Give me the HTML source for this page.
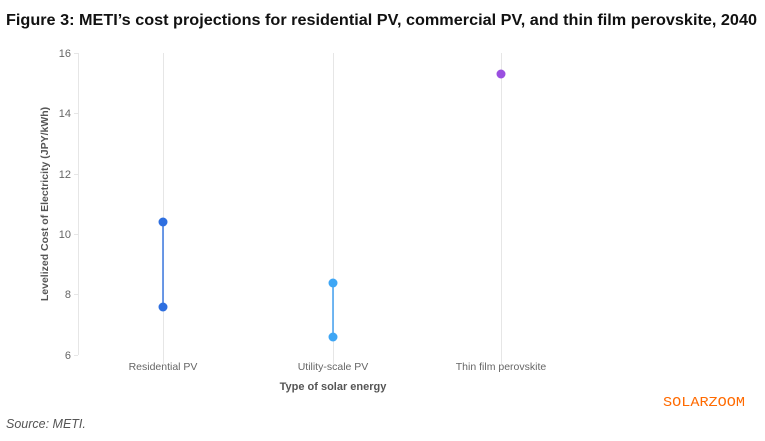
<!DOCTYPE html>
<html><head><meta charset="utf-8"><style>
body{margin:0;background:#fff;width:765px;height:436px;overflow:hidden;font-family:"Liberation Sans",sans-serif}
</style></head><body>
<svg width="765" height="436" xmlns="http://www.w3.org/2000/svg" font-family="Liberation Sans, sans-serif">
<text x="6" y="25" font-size="16" font-weight="bold" fill="#111" textLength="751" lengthAdjust="spacingAndGlyphs">Figure 3: METI’s cost projections for residential PV, commercial PV, and thin film perovskite, 2040</text>
<g stroke="#e6e6e6" stroke-width="1">
<line x1="78.5" y1="53" x2="78.5" y2="355"/>
<line x1="163.5" y1="53" x2="163.5" y2="364"/>
<line x1="333.5" y1="53" x2="333.5" y2="364"/>
<line x1="501.5" y1="53" x2="501.5" y2="364"/>
<line x1="74" y1="53.5" x2="78" y2="53.5"/><line x1="74" y1="113.5" x2="78" y2="113.5"/>
<line x1="74" y1="174.5" x2="78" y2="174.5"/><line x1="74" y1="234.5" x2="78" y2="234.5"/>
<line x1="74" y1="294.5" x2="78" y2="294.5"/><line x1="74" y1="355.5" x2="78" y2="355.5"/>
</g>
<g font-size="11" fill="#666" text-anchor="end">
<text x="71" y="57">16</text><text x="71" y="117">14</text><text x="71" y="178">12</text>
<text x="71" y="238">10</text><text x="71" y="298">8</text><text x="71" y="359">6</text>
</g>
<text transform="translate(48,204) rotate(-90)" font-size="10.5" font-weight="bold" fill="#555" text-anchor="middle">Levelized Cost of Electricity (JPY/kWh)</text>
<g font-size="10.5" fill="#666" text-anchor="middle">
<text x="163" y="370">Residential PV</text><text x="333" y="370">Utility-scale PV</text><text x="501" y="370">Thin film perovskite</text>
</g>
<text x="333" y="390" font-size="11" font-weight="bold" fill="#555" text-anchor="middle">Type of solar energy</text>
<line x1="163" y1="222" x2="163" y2="307" stroke="#3b78e0" stroke-width="1.5"/>
<circle cx="163" cy="222" r="4.5" fill="#2e6fe0"/><circle cx="163" cy="307" r="4.5" fill="#2e6fe0"/>
<line x1="333" y1="283" x2="333" y2="337" stroke="#43a0f0" stroke-width="1.5"/>
<circle cx="333" cy="283" r="4.5" fill="#3ea6f5"/><circle cx="333" cy="337" r="4.5" fill="#3ea6f5"/>
<circle cx="501" cy="74" r="4.5" fill="#9a4fe0"/>
<text x="663" y="406" font-size="14" fill="#ff6a00" font-family="Liberation Mono, monospace" textLength="82" lengthAdjust="spacingAndGlyphs">SOLARZOOM</text>
<text x="6" y="428" font-size="12.5" font-style="italic" fill="#555">Source: METI.</text>
</svg>
</body></html>
